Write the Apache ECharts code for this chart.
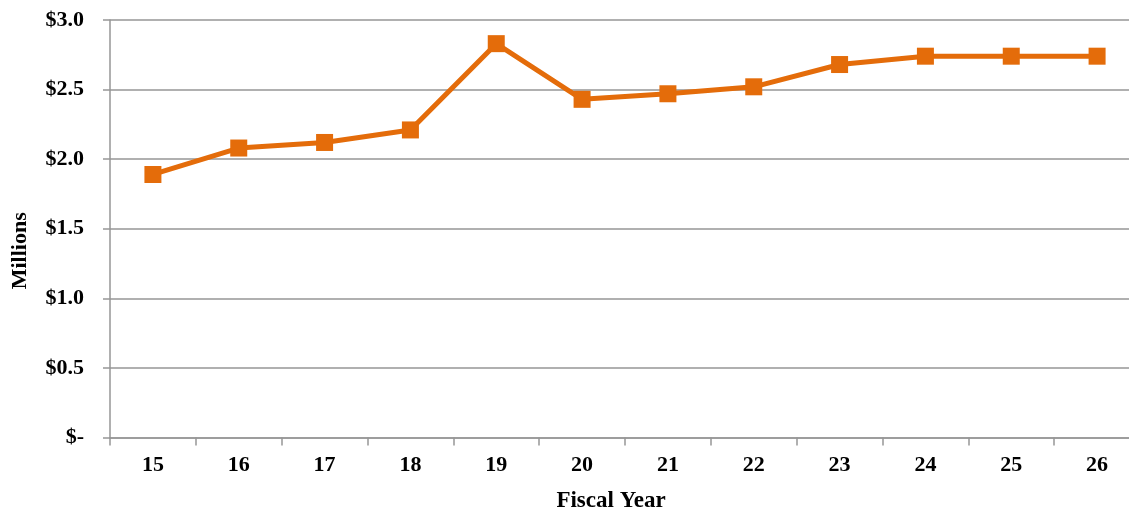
<!DOCTYPE html>
<html><head><meta charset="utf-8">
<script src="https://cdn.jsdelivr.net/npm/echarts@6/dist/echarts.min.js"></script>
<style>html,body{margin:0;padding:0;background:#fff}#c{width:1129px;height:508px}</style>
</head><body><div id="c"></div>
<script>
const categories = ['15','16','17','18','19','20','21','22','23','24','25','26'];
const values = [1.89, 2.08, 2.12, 2.21, 2.83, 2.43, 2.47, 2.52, 2.68, 2.74, 2.74, 2.74];
const yTicks = [0, 0.5, 1.0, 1.5, 2.0, 2.5, 3.0];

const chart = echarts.init(document.getElementById('c'));
const font = '"Liberation Serif", "Times New Roman", serif';
chart.setOption({
  animation: false,
  grid: { left: 110, top: 20, width: 1030, bottom: 70.5, containLabel: false, outerBoundsMode: 'none' },
  xAxis: {
    type: 'category', data: categories, boundaryGap: true,
    name: 'Fiscal Year', nameLocation: 'middle', nameGap: 52,
    nameTextStyle: { fontFamily: font, fontWeight: 'bold', fontSize: 23, color: '#000', padding: [0, 28, 0, 0] },
    axisLine: { lineStyle: { color: '#969696', width: 1.5 } },
    axisTick: { show: true, length: 8, lineStyle: { color: '#969696', width: 1.5 } },
    axisLabel: { fontFamily: font, fontWeight: 'bold', fontSize: 22, color: '#000', margin: 17 }
  },
  yAxis: {
    type: 'value', min: yTicks[0], max: yTicks[yTicks.length - 1], interval: 0.5,
    name: 'Millions', nameLocation: 'middle', nameGap: 79, nameRotate: 90,
    nameTextStyle: { fontFamily: font, fontWeight: 'bold', fontSize: 22, color: '#000', padding: [0, 44, 0, 0] },
    axisLine: { show: true, lineStyle: { color: '#969696', width: 1.5 } },
    axisTick: { show: true, length: 7, lineStyle: { color: '#969696', width: 1.5 } },
    splitLine: { lineStyle: { color: '#969696', width: 1.5 } },
    axisLabel: {
      fontFamily: font, fontWeight: 'bold', fontSize: 22, color: '#000', margin: 26,
      formatter: v => v === 0 ? '$-' : '$' + v.toFixed(1)
    }
  },
  series: [{
    type: 'line', data: values,
    symbol: 'rect', symbolSize: 17,
    lineStyle: { color: '#E46C0A', width: 5 },
    itemStyle: { color: '#E46C0A' }
  }]
});
</script></body></html>
